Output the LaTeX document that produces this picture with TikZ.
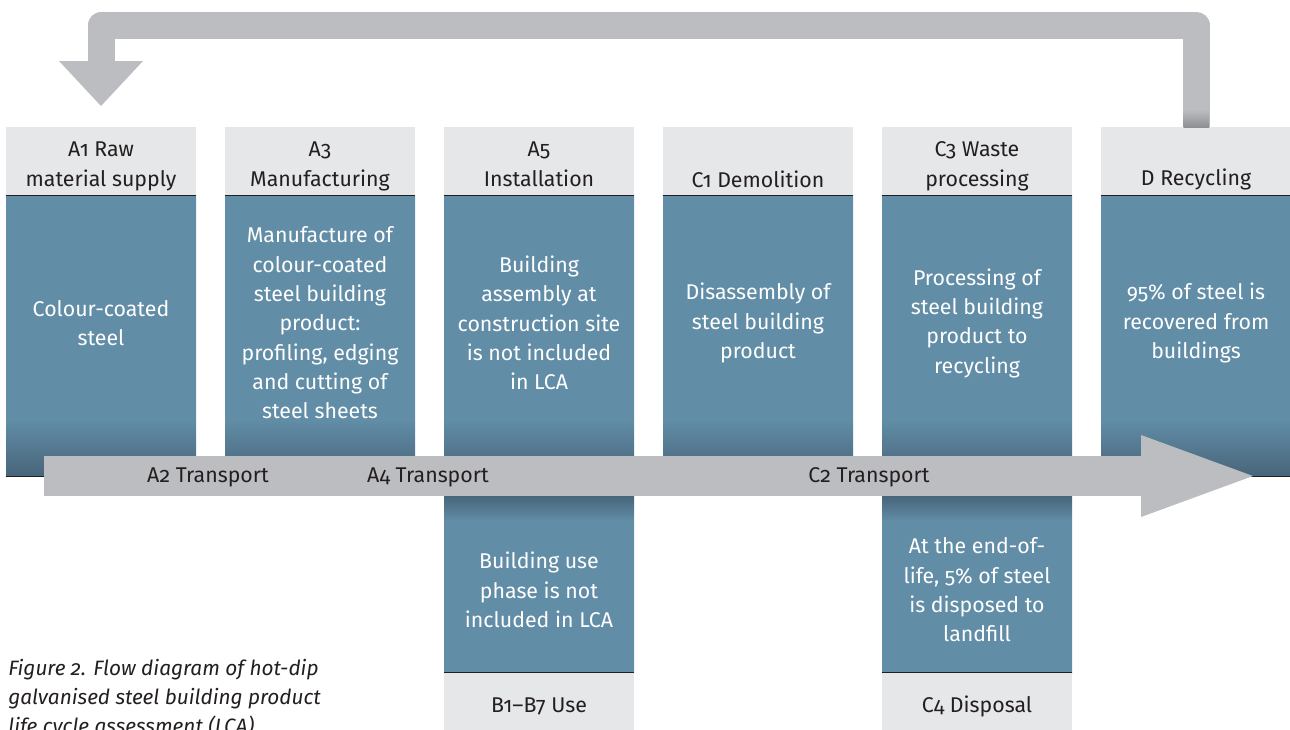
\documentclass[tikz,border=0pt]{standalone}
\usepackage{fontspec}
\setmainfont[Numbers=OldStyle]{Fira Sans}
\usetikzlibrary{arrows.meta}
\definecolor{stgrey}{HTML}{E6E7E8}
\definecolor{stblue}{HTML}{618DA6}
\definecolor{stdark}{HTML}{48657A}
\definecolor{stband}{HTML}{BCBDC0}
\definecolor{stbanddark}{HTML}{8E8F92}
\definecolor{sttext}{HTML}{231F20}
\pgfdeclareverticalshading{colbody}{100bp}{color(0bp)=(stdark); color(25bp)=(stdark); color(35bp)=(stblue); color(100bp)=(stblue)}
\pgfdeclareverticalshading{colbodylow}{100bp}{color(0bp)=(stblue); color(68bp)=(stblue); color(75bp)=(stdark); color(100bp)=(stdark)}
\tikzset{
  headbox/.style={fill=stgrey, minimum width=142.5pt, minimum height=51pt, inner sep=0pt},
  bodybox/.style={shading=colbody, minimum width=142.5pt, minimum height=210.75pt, inner sep=0pt},
  lowbox/.style={shading=colbodylow, minimum width=142.5pt, minimum height=132.75pt, inner sep=0pt},
  headtext/.style={text=sttext, align=center, font=\fontsize{16}{22.5}\selectfont},
  bodytext/.style={text=white, align=center, font=\fontsize{16}{22}\selectfont},
  sepline/.style={draw=sttext, line width=0.8pt},
  band/.style={draw=stband, line width=30pt},
  caption/.style={text=sttext, align=left, inner sep=0pt, font=\fontsize{15.6}{21.75}\selectfont\itshape}
}
\begin{document}
\begin{tikzpicture}[x=0.75pt,y=-0.75pt]
  \useasboundingbox (0,0) rectangle (1290,729);
  \clip (0,0) rectangle (1290,729);
  % column heads
  \node[headbox] (h1) at (101,161) {};
  \node[headbox] (h2) at (320,161) {};
  \node[headbox] (h3) at (539,161) {};
  \node[headbox] (h4) at (758,161) {};
  \node[headbox] (h5) at (977,161) {};
  \node[headbox] (h6) at (1196,161) {};
  % column bodies
  \node[bodybox] (b1) at (101,335.5) {};
  \node[bodybox] (b2) at (320,335.5) {};
  \node[bodybox] (b3) at (539,335.5) {};
  \node[bodybox] (b4) at (758,335.5) {};
  \node[bodybox] (b5) at (977,335.5) {};
  \node[bodybox] (b6) at (1196,335.5) {};
  \node[lowbox] (l3) at (539,584.5) {};
  \node[lowbox] (l5) at (977,584.5) {};
  \node[headbox, minimum height=49.5pt] (u3) at (539,706) {};
  \node[headbox, minimum height=49.5pt] (u5) at (977,706) {};
  \fill[stblue] (b3.south west) rectangle (l3.north east);
  \fill[stblue] (b5.south west) rectangle (l5.north east);
  % thin rules
  \draw[sepline] (h1.south west) -- (h1.south east);
  \draw[sepline] (h2.south west) -- (h2.south east);
  \draw[sepline] (h3.south west) -- (h3.south east);
  \draw[sepline] (h4.south west) -- (h4.south east);
  \draw[sepline] (h5.south west) -- (h5.south east);
  \draw[sepline] (h6.south west) -- (h6.south east);
  \draw[sepline] (b1.south west) -- (b1.south east);
  \draw[sepline] (b6.south west) -- (b6.south east);
  \draw[sepline] (u3.north west) -- (u3.north east);
  \draw[sepline] (u5.north west) -- (u5.north east);
  % return arrow D -> A1
  \coordinate (retend) at (101,106);
  \draw[draw=stband, line width=20.25pt, line join=round,
        -{Triangle[length=33.75pt,width=63pt,line width=0pt]}]
        (h6.north) |- (101,25) -- (retend);
  \shade[top color=stband, bottom color=stbanddark] (1183.5,110) rectangle (1209,127);
  % transport arrow
  \coordinate (trstart) at (44,476);
  \coordinate (trend) at (1253,476);
  \draw[band, -{Triangle[length=84pt,width=61.5pt,line width=0pt]}] (trstart) -- (trend);
  % texts
  \node[headtext] (th1) at (101,166) {A1 Raw\\material supply};
  \node[headtext] (th2) at (320,166) {A3\\Manufacturing};
  \node[headtext] (th3) at (539,164) {A5\\Installation};
  \node[headtext] (th4) at (758,179) {C1 Demolition};
  \node[headtext] (th5) at (977,166) {C3 Waste\\processing};
  \node[headtext] (th6) at (1196,179) {D Recycling};
  \node[bodytext] (t1) at (101,323) {Colour-coated\\steel};
  \node[bodytext] (t2) at (320,323) {Manufacture of\\colour-coated\\steel building\\product:\\profiling, edging\\and cutting of\\steel sheets};
  \node[bodytext] (t3) at (539,323) {Building\\assembly at\\construction site\\is not included\\in LCA};
  \node[bodytext] (t4) at (758,323) {Disassembly of\\steel building\\product};
  \node[bodytext] (t5) at (977,323) {Processing of\\steel building\\product to\\recycling};
  \node[bodytext] (t6) at (1196,323) {95\% of steel is\\recovered from\\buildings};
  \node[bodytext] (tl3) at (539,590) {Building use\\phase is not\\included in LCA};
  \node[bodytext] (tl5) at (977,590) {At the end-of-\\life, 5\% of steel\\is disposed to\\landfill};
  \node[headtext] (tu3) at (u3) {B1–B7 Use};
  \node[headtext] (tu5) at (u5) {C4 Disposal};
  \node[headtext] (tr2) at (208,477) {A2 Transport};
  \node[headtext] (tr4) at (428,477) {A4 Transport};
  \node[headtext] (trc2) at (869,477) {C2 Transport};
  \node[caption, anchor=north west] (cap) at (8,659) {Figure 2. Flow diagram of hot-dip\\galvanised steel building product\\life cycle assessment (LCA)};
\end{tikzpicture}
\end{document}
